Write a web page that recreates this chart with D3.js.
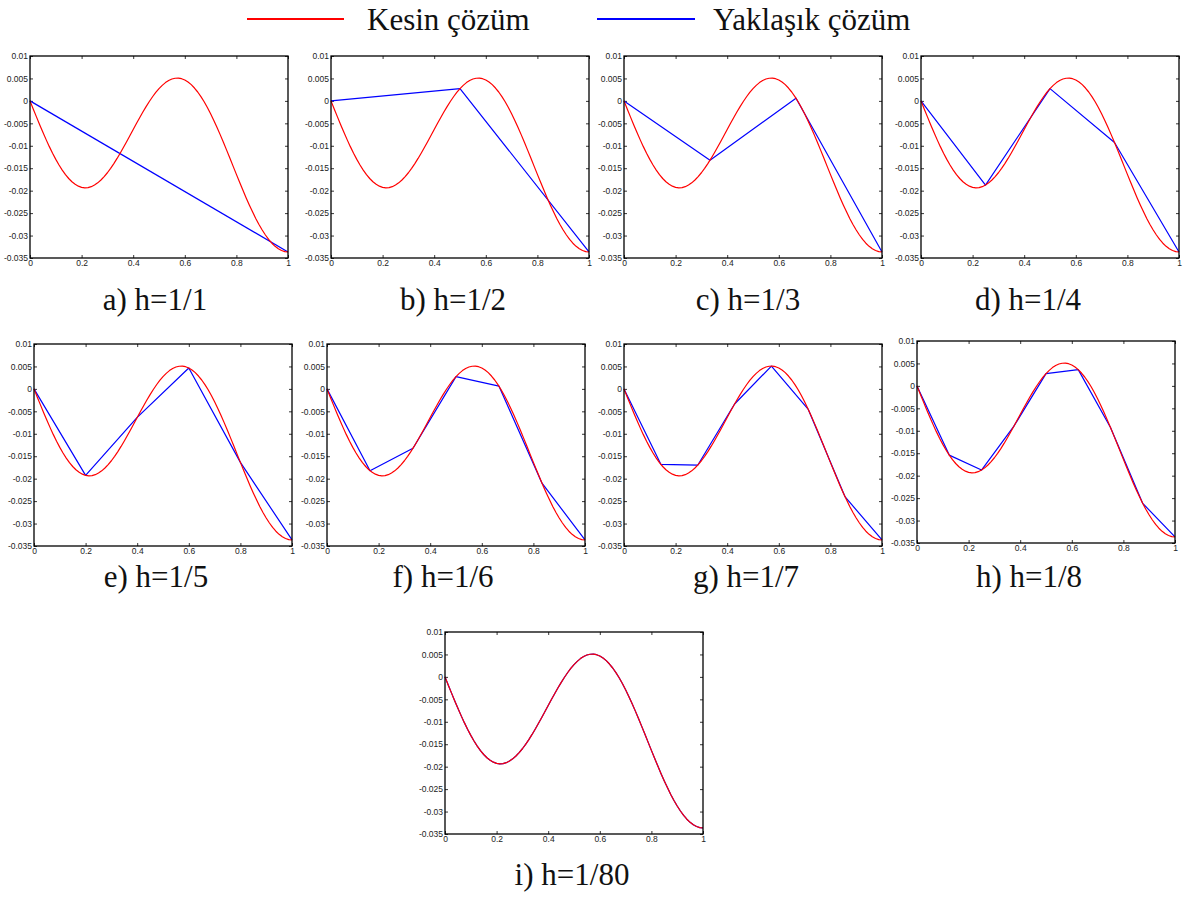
<!DOCTYPE html>
<html>
<head>
<meta charset="utf-8">
<script src="https://cdn.jsdelivr.net/npm/d3@7"></script>
<style>
  html, body { margin: 0; padding: 0; background: #fff; }
  svg { display: block; }
  .tick text { font-family: "Liberation Sans", Arial, sans-serif; font-size: 8.5px; fill: #222; }
  .caption, .legend-text { font-family: "Liberation Serif", "Times New Roman", serif; fill: #111; }
</style>
</head>
<body>
<svg id="fig" width="1188" height="898"></svg>
<script>
// Exact solution u(x) sampled on x = 0, 1/80, ..., 1
const exactU = [
  0, -0.00179, -0.00356, -0.00530, -0.00699, -0.00863, -0.01019, -0.01166,
  -0.01303, -0.01429, -0.01542, -0.01643, -0.01729, -0.01801, -0.01858, -0.01900,
  -0.01926, -0.01936, -0.01931, -0.01911, -0.01875, -0.01826, -0.01763, -0.01688,
  -0.01601, -0.01503, -0.01397, -0.01282, -0.01160, -0.01033, -0.00903, -0.00770,
  -0.00636, -0.00504, -0.00374, -0.00248, -0.00127, -0.00013, 0.00092, 0.00188,
  0.00273, 0.00346, 0.00407, 0.00454, 0.00487, 0.00504, 0.00507, 0.00494,
  0.00465, 0.00421, 0.00362, 0.00287, 0.00198, 0.00096, -0.00020, -0.00148,
  -0.00287, -0.00435, -0.00593, -0.00757, -0.00927, -0.01102, -0.01280, -0.01459,
  -0.01637, -0.01814, -0.01987, -0.02156, -0.02318, -0.02472, -0.02618, -0.02753,
  -0.02877, -0.02988, -0.03087, -0.03171, -0.03240, -0.03295, -0.03334, -0.03357,
  -0.03365
];

// Approximate (linear element) nodal values for each mesh size h = 1/n
const approxH1 = [0, -0.03365];
const approxH2 = [0, 0.00273, -0.03365];
const approxH3 = [0, -0.01321, 0.00060, -0.03365];
const approxH4 = [0, -0.01875, 0.00273, -0.00927, -0.03365];
const approxH5 = [0, -0.01926, -0.00636, 0.00465, -0.01637, -0.03365];
const approxH6 = [0, -0.01822, -0.01321, 0.00273, 0.00060, -0.02100, -0.03365];
const approxH7 = [0, -0.01681, -0.01700, -0.00337, 0.00508, -0.00457, -0.02407, -0.03365];
const approxH8 = [0, -0.01542, -0.01875, -0.00903, 0.00273, 0.00362, -0.00927, -0.02618, -0.03365];
// with 80 elements the nodal values fall on the same grid as exactU
const approxH80 = exactU;

const panelLabels = ["a) h=1/1", "b) h=1/2", "c) h=1/3", "d) h=1/4",
                     "e) h=1/5", "f) h=1/6", "g) h=1/7", "h) h=1/8", "i) h=1/80"];
const panelSeries = [approxH1, approxH2, approxH3, approxH4,
                     approxH5, approxH6, approxH7, approxH8, approxH80];

const xTicks = [0, 0.2, 0.4, 0.6, 0.8, 1];
const xTickLabels = ["0", "0.2", "0.4", "0.6", "0.8", "1"];
const yTicks = [0.01, 0.005, 0, -0.005, -0.01, -0.015, -0.02, -0.025, -0.03, -0.035];
const yTickLabels = ["0.01", "0.005", "0", "-0.005", "-0.01", "-0.015", "-0.02", "-0.025", "-0.03", "-0.035"];

const legendNames = ["Kesin çözüm", "Yaklaşık çözüm"];

// ---- layout ----
const PW = 258, PH = 202;
const layout = [
  { x: 30,  y: 56,  cx: 155,  cy: 310 },
  { x: 331, y: 56,  cx: 453,  cy: 310 },
  { x: 624, y: 56,  cx: 748,  cy: 310 },
  { x: 921, y: 56,  cx: 1028, cy: 310 },
  { x: 34,  y: 344, cx: 156,  cy: 587 },
  { x: 327, y: 344, cx: 443,  cy: 587 },
  { x: 624, y: 344, cx: 746,  cy: 587 },
  { x: 917, y: 341, cx: 1029, cy: 587 },
  { x: 445, y: 632, cx: 572,  cy: 885 }
];
const colors = { exact: "#ff0000", approx: "#0000ff" };

const svg = d3.select("#fig");
svg.append("rect").attr("width", 1188).attr("height", 898).attr("fill", "#fff");

const x = d3.scaleLinear().domain([0, 1]).range([0, PW]);
const y = d3.scaleLinear().domain([-0.035, 0.01]).range([PH, 0]);

const exactPts = exactU.map((v, i) => [i / (exactU.length - 1), v]);
const line = d3.line().x(d => x(d[0])).y(d => y(d[1]));

layout.forEach((L, p) => {
  const g = svg.append("g").attr("transform", `translate(${L.x},${L.y})`);

  const clipId = "clip" + p;
  g.append("clipPath").attr("id", clipId)
    .append("rect").attr("x", -1).attr("y", -1).attr("width", PW + 2).attr("height", PH + 2);

  // axes with inward ticks on all four sides
  const fmtX = (d, i) => xTickLabels[i];
  const fmtY = (d, i) => yTickLabels[i];
  const ax = g.append("g").attr("transform", `translate(0,${PH})`)
    .call(d3.axisBottom(x).tickValues(xTicks).tickFormat(fmtX).tickSizeInner(-3).tickSizeOuter(0).tickPadding(2));
  const ay = g.append("g")
    .call(d3.axisLeft(y).tickValues(yTicks).tickFormat(fmtY).tickSizeInner(-3).tickSizeOuter(0).tickPadding(2));
  const at = g.append("g")
    .call(d3.axisTop(x).tickValues(xTicks).tickFormat("").tickSizeInner(-3).tickSizeOuter(0));
  const ar = g.append("g").attr("transform", `translate(${PW},0)`)
    .call(d3.axisRight(y).tickValues(yTicks).tickFormat("").tickSizeInner(-3).tickSizeOuter(0));
  [ax, ay, at, ar].forEach(a => {
    a.select(".domain").remove();
    a.selectAll(".tick line").attr("stroke", "#000").attr("stroke-width", 0.8);
  });
  ax.selectAll(".tick text").attr("dy", "0.75em");

  const plot = g.append("g").attr("clip-path", `url(#${clipId})`);
  const nodes = panelSeries[p];
  const approxPts = nodes.map((v, i) => [i / (nodes.length - 1), v]);

  plot.append("path").datum(approxPts).attr("d", line)
    .attr("fill", "none").attr("stroke", colors.approx).attr("stroke-width", 1.2)
    .attr("stroke-linejoin", "round");
  plot.append("path").datum(exactPts).attr("d", line)
    .attr("fill", "none").attr("stroke", colors.exact).attr("stroke-width", 1.2)
    .attr("stroke-linejoin", "round");

  // frame
  g.append("rect").attr("width", PW).attr("height", PH)
    .attr("fill", "none").attr("stroke", "#000").attr("stroke-width", 1.3);

  svg.append("text").attr("class", "caption")
    .attr("x", L.cx).attr("y", L.cy).attr("text-anchor", "middle")
    .attr("font-size", 31).text(panelLabels[p]);
});

// ---- legend ----
const legendItems = [
  { x1: 247, x2: 344, tx: 367, color: colors.exact, name: legendNames[0] },
  { x1: 597, x2: 695, tx: 713, color: colors.approx, name: legendNames[1] }
];
const lg = svg.append("g");
legendItems.forEach(it => {
  lg.append("line").attr("x1", it.x1).attr("x2", it.x2).attr("y1", 19).attr("y2", 19)
    .attr("stroke", it.color).attr("stroke-width", 2);
  lg.append("text").attr("class", "legend-text").attr("x", it.tx).attr("y", 30)
    .attr("font-size", 31).text(it.name);
});
</script>
</body>
</html>
